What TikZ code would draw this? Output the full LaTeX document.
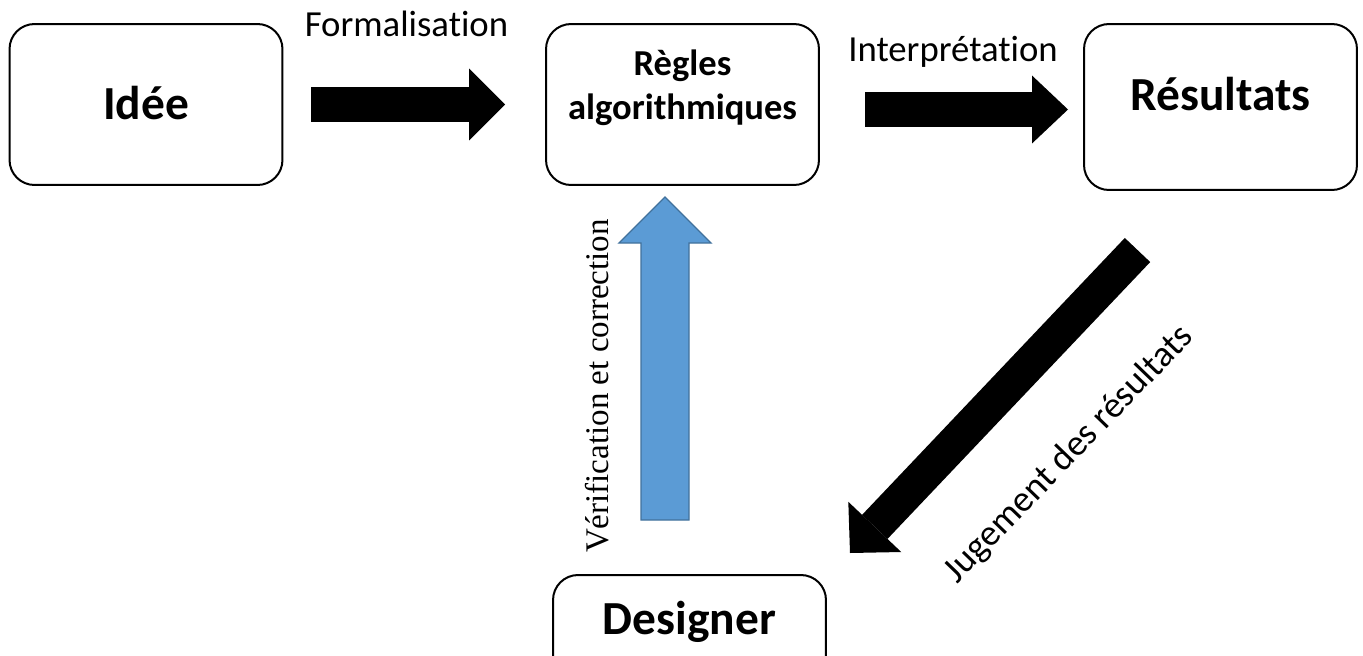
\documentclass[tikz,border=0pt]{standalone}
\usepackage{fontspec}
\setmainfont{Carlito}[Ligatures=NoCommon]
\newfontfamily\timesfont{Liberation Serif}
\usetikzlibrary{arrows.meta, calc}
\definecolor{vfill}{HTML}{5B9BD5}
\definecolor{vline}{HTML}{41719C}
\tikzstyle{box} = [rectangle, rounded corners=0.5cm, draw=black, line width=0.04cm,
minimum width=5.46cm, minimum height=3.22cm, inner sep=0pt, align=center]
\tikzstyle{big} = [font=\fontsize{27}{32}\selectfont\bfseries]
\tikzstyle{lbl} = [font=\fontsize{20.9}{25}\selectfont]
\tikzstyle{fat} = [line width=0.7cm, -{Triangle[length=0.72cm, width=1.44cm, line width=0pt]}]
\tikzstyle{blue} = [draw=vline, fill=vfill, line width=0.025cm]

\begin{document}
\begin{tikzpicture}[x=0.02cm, y=-0.02cm]

        \useasboundingbox (0,0) rectangle (1363,656);
        \clip (0,0) rectangle (1363,656);

        % boxes
        \node (idee) [box, big, text height=0.72cm, text depth=0.1cm] at (146,104.5) {Id\'ee};
        \node (regles) [box, font=\fontsize{20.8}{25.5}\selectfont\bfseries,
            text height=1.54cm, text depth=0.92cm] at (682.5,104.5) {R\`egles\\ algorithmiques};
        \node (result) [box, big, minimum height=3.32cm, text height=0.72cm, text depth=0.6cm] at (1220.5,107) {R\'esultats};
        \node (designer) [box, big, minimum height=3.24cm, text height=0.72cm, text depth=1.6cm] at (689.5,656) {Designer};

        % labels
        \node (formal) [lbl, anchor=base] at (406.5,36) {Formalisation};
        \node (interp) [lbl, anchor=base] at (953,61) {Interpr\'etation};
        \node (jug) [lbl, anchor=base, rotate=46] at (1076,461) {Jugement des r\'esultats};
        \node (verif) [font=\timesfont\fontsize{18.8}{22}\selectfont, anchor=base, rotate=90] at (608,386) {V\'erification et correction};

        % arrow ends
        \coordinate (f1) at (311,104.5);
        \coordinate (f2) at (505,104.5);
        \coordinate (i1) at (865,109.5);
        \coordinate (i2) at (1068,109.5);
        \coordinate (j1) at (1137.5,250);
        \coordinate (j2) at (850,553);
        \coordinate (v1) at (665,520);
        \coordinate (v2) at (665,197);

        \draw [fat] (f1) -- (f2);
        \draw [fat, -{Triangle[length=0.72cm, width=1.36cm, line width=0pt]}] (i1) -- (i2);
        \draw [fat, -{Triangle[length=0.72cm, width=1.46cm, line width=0pt]}] (j1) -- (j2);

        \draw [blue] ($(v1)+(-24,0)$) -- ($(v1)+(24,0)$) -- ($(v2)+(24,46)$) -- ($(v2)+(46,46)$)
            -- (v2) -- ($(v2)+(-46,46)$) -- ($(v2)+(-24,46)$) -- cycle;

    \end{tikzpicture}
\end{document}
